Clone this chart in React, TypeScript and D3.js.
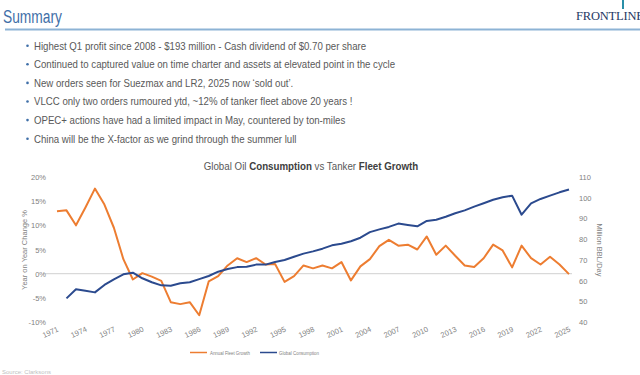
import React from "react";
import * as d3 from "d3";

const years: number[] = d3.range(1971, 2026);

const fleetGrowth: (number | null)[] = [
  12.9, 13.1, 10.0, 13.7, 17.6, 14.3, 9.5, 3.0, -1.2, 0.1,
  -0.6, -1.5, -5.9, -6.3, -5.9, -8.6, -1.6, -0.5, 1.7, 3.2,
  2.4, 3.2, 1.9, 2.0, -1.7, -0.5, 1.7, 1.1, 1.7, 1.1,
  2.4, -1.4, 1.5, 3.0, 5.7, 7.0, 5.8, 6.0, 5.0, 7.7,
  3.9, 5.8, 3.7, 1.7, 1.4, 3.2, 6.0, 4.8, 1.3, 5.8,
  3.2, 1.9, 3.5, 1.9, -0.1,
];

const consumption: (number | null)[] = [
  null, 51.4, 55.8, 55.1, 54.3, 57.9, 60.6, 63.0, 63.8, 61.1,
  59.2, 57.7, 57.5, 58.7, 59.2, 60.7, 62.2, 64.3, 65.6, 66.5,
  66.7, 67.7, 67.7, 69.0, 69.9, 71.5, 73.0, 74.1, 75.4, 77.0,
  77.8, 79.0, 80.7, 83.4, 84.7, 85.9, 87.5, 86.8, 86.2, 88.8,
  89.4, 90.8, 92.5, 93.9, 95.7, 97.3, 99.0, 100.2, 101.0, 91.8,
  97.3, 99.4, 101.0, 102.6, 104.0,
];

const leftTicks: number[] = [-10, -5, 0, 5, 10, 15, 20];
const rightTicks: number[] = [40, 50, 60, 70, 80, 90, 100, 110];
const xTickYears: number[] = d3.range(1971, 2026, 3);

const bullets: string[] = [
  "Highest Q1 profit since 2008 -  $193 million - Cash dividend of $0.70 per share",
  "Continued to captured value on time charter and assets at elevated point in the cycle",
  "New orders seen for Suezmax and LR2, 2025 now \u2018sold out\u2019.",
  "VLCC only two orders rumoured ytd, ~12% of tanker fleet above 20 years !",
  "OPEC+ actions have had a limited impact in May, countered by ton-miles",
  "China will be the X-factor as we grind through the summer lull",
];

const legendItems: string[] = ["Annual Fleet Growth", "Global Consumption"];

const ORANGE = "#ED7D31";
const BLUE = "#2B4A8E";
const GREY = "#7f7f7f";
const FONT = "'Liberation Sans', Arial, sans-serif";

export default function App() {
  const x = d3.scaleLinear().domain([1971, 2025]).range([57, 569]);
  const yL = d3.scaleLinear().domain([-10, 20]).range([322, 177]);
  const yR = d3.scaleLinear().domain([40, 110]).range([322, 177]);

  const orangeLine = d3
    .line<number>()
    .defined((_, i) => fleetGrowth[i] != null)
    .x((_, i) => x(years[i]))
    .y((_, i) => yL(fleetGrowth[i] as number));
  const blueLine = d3
    .line<number>()
    .defined((_, i) => consumption[i] != null)
    .x((_, i) => x(years[i]))
    .y((_, i) => yR(consumption[i] as number));

  return (
    <div style={{ position: "absolute", left: 0, top: 0 }}>
      <svg width={640} height={375} style={{ display: "block", background: "#fff", fontFamily: FONT }}>
        <rect width={640} height={375} fill="#fff" />
        {/* Header */}
        <text x={3} y={23} fontSize={18} fill="#3F6FA8" textLength={59} lengthAdjust="spacingAndGlyphs">
          Summary
        </text>
        <line x1={5} x2={640} y1={29.5} y2={29.5} stroke="#8DB3D5" strokeWidth={2} />
        <text x={576} y={20} fontSize={12.5} fill="#1F3864" fontFamily="'Liberation Serif', serif" letterSpacing={-0.2}>
          FRONTLINE
        </text>
        <rect x={622} y={0} width={2} height={9} fill="#2A8FA8" />

        {/* Bullets */}
        {bullets.map((b, i) => {
          const yy = 49.5 + i * 18.6;
          return (
            <g key={i}>
              <circle cx={27.5} cy={yy - 3.8} r={1.3} fill="#3F6FA8" />
              <g transform={`translate(34,${yy}) scale(0.91,1)`}>
                <text x={0} y={0} fontSize={10.6} fill="#595959">
                  {b}
                </text>
              </g>
            </g>
          );
        })}

        {/* Chart title */}
        <g transform="translate(311,170) scale(0.84,1)">
          <text x={0} y={0} fontSize={11.6} fill="#595959" textAnchor="middle">
            <tspan>Global Oil </tspan>
            <tspan fontWeight="bold" fill="#404040">Consumption</tspan>
            <tspan> vs Tanker </tspan>
            <tspan fontWeight="bold" fill="#404040">Fleet Growth</tspan>
          </text>
        </g>

        {/* Zero gridline */}
        <line x1={45} x2={572} y1={yL(0)} y2={yL(0)} stroke="#d9d9d9" strokeWidth={1.2} />

        {/* Left axis */}
        {leftTicks.map((t) => (
          <text key={t} x={46} y={yL(t) + 3} fontSize={7.5} fill={GREY} textAnchor="end">
            {t}%
          </text>
        ))}
        <text
          transform={`translate(27,${250}) rotate(-90)`}
          fontSize={7.5}
          fill={GREY}
          textAnchor="middle"
        >
          Year on Year Change %
        </text>

        {/* Right axis */}
        {rightTicks.map((t) => (
          <text key={t} x={579} y={yR(t) + 3} fontSize={7.5} fill={GREY} textAnchor="start">
            {t}
          </text>
        ))}
        <text
          transform={`translate(597,${250}) rotate(90)`}
          fontSize={7.5}
          fill={GREY}
          textAnchor="middle"
        >
          Million BBL/Day
        </text>

        {/* X axis labels */}
        {xTickYears.map((yr) => (
          <text
            key={yr}
            transform={`translate(${x(yr) + 2},${331}) rotate(-25)`}
            fontSize={7.5}
            fill={GREY}
            textAnchor="end"
          >
            {yr}
          </text>
        ))}

        {/* Lines */}
        <path d={orangeLine(years) || ""} fill="none" stroke={ORANGE} strokeWidth={2} strokeLinejoin="round" />
        <path d={blueLine(years) || ""} fill="none" stroke={BLUE} strokeWidth={2} strokeLinejoin="round" />

        {/* Legend */}
        <g fontSize={6} fill={GREY}>
          <line x1={190} x2={207} y1={352.5} y2={352.5} stroke={ORANGE} strokeWidth={1.5} />
          <text x={210} y={354.5} textLength={40} lengthAdjust="spacingAndGlyphs">{legendItems[0]}</text>
          <line x1={260} x2={277} y1={352.5} y2={352.5} stroke={BLUE} strokeWidth={1.5} />
          <text x={279} y={354.5} textLength={40} lengthAdjust="spacingAndGlyphs">{legendItems[1]}</text>
        </g>

        {/* Source */}
        <text x={2} y={374} fontSize={6} fill="#bfbfbf">Source: Clarksons</text>
      </svg>
    </div>
  );
}
